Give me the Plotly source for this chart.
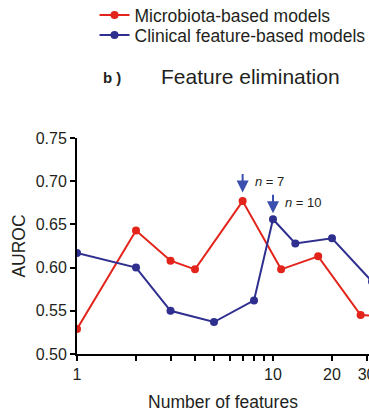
import plotly.graph_objects as go
import math

# Data
micro_x = [1, 2, 3, 4, 7, 11, 17, 28, 45]
micro_y = [0.529, 0.643, 0.608, 0.598, 0.677, 0.598, 0.613, 0.545, 0.543]
clin_x = [1, 2, 3, 5, 8, 10, 13, 20, 32]
clin_y = [0.617, 0.600, 0.550, 0.537, 0.562, 0.656, 0.628, 0.634, 0.584]

tick_vals = [1, 2, 3, 4, 5, 6, 7, 8, 9, 10, 20, 30]
tick_text = ["1", "", "", "", "", "", "", "", "", "10", "20", "30"]
y_ticks = [0.50, 0.55, 0.60, 0.65, 0.70, 0.75]

RED = "#e3241b"
BLUE = "#2e2f8e"
ARROW = "#3a4fae"
FONT = "Liberation Sans, Arial, sans-serif"

W, H = 369, 415
L, T, B = 77, 138, 61
PW, PH = W - L, H - T - B
xmax = (W - L) / 196.0

fig = go.Figure()
fig.add_trace(go.Scatter(x=micro_x, y=micro_y, mode="lines+markers",
                         name="Microbiota-based models",
                         line=dict(color=RED, width=2),
                         marker=dict(color=RED, size=8), legend="legend"))
fig.add_trace(go.Scatter(x=clin_x, y=clin_y, mode="lines+markers",
                         name="Clinical feature-based models",
                         line=dict(color=BLUE, width=2),
                         marker=dict(color=BLUE, size=8), legend="legend2"))

leg_common = dict(xanchor="left", yanchor="middle", font=dict(size=17.5, color="#231f20"),
                  itemwidth=30, bgcolor="rgba(0,0,0,0)")
lx = 0.06

fig.update_layout(
    width=W, height=H,
    margin=dict(l=L, r=0, t=T, b=B, autoexpand=False),
    paper_bgcolor="white", plot_bgcolor="white",
    font=dict(family=FONT, color="#231f20", size=16),
    showlegend=True,
    legend=dict(x=lx, y=(H - B - 15) / PH, **leg_common),
    legend2=dict(x=lx, y=(H - B - 35) / PH, **leg_common),
    xaxis=dict(type="log", range=[0, xmax], showgrid=False, zeroline=False,
               showline=True, linecolor="black", linewidth=2,
               ticks="outside", ticklen=5, tickwidth=2, tickcolor="black",
               tickvals=tick_vals, ticktext=tick_text, automargin=False,
               tickfont=dict(size=16), ticklabeloverflow="allow",
               title=dict(text="Number of features", font=dict(size=17.5), standoff=14)),
    yaxis=dict(range=[0.5, 0.75], showgrid=False, zeroline=False,
               showline=True, linecolor="black", linewidth=2,
               ticks="outside", ticklen=5, tickwidth=2, tickcolor="black",
               tickvals=y_ticks, tickformat=".2f", automargin=False,
               tickfont=dict(size=16),
               title=dict(text="AUROC", font=dict(size=17.5), standoff=6)),
)

fig.add_annotation(xref="paper", yref="paper", x=(101 - L) / PW, y=(H - B - 77) / PH,
                   text="<b>b )</b>", showarrow=False, xanchor="left", yanchor="middle",
                   font=dict(size=15, color="#231f20"))
fig.add_annotation(xref="paper", yref="paper", x=(159 - L) / PW, y=(H - B - 76) / PH,
                   text="Feature elimination", showarrow=False, xanchor="left", yanchor="middle",
                   font=dict(size=21, color="#231f20"))

# arrows
fig.add_annotation(x=math.log10(7), y=0.687, ax=0, ay=-20, text="", showarrow=True,
                   arrowhead=2, arrowsize=1.2, arrowwidth=2, arrowcolor=ARROW)
fig.add_annotation(x=math.log10(10), y=0.663, ax=0, ay=-20, text="", showarrow=True,
                   arrowhead=2, arrowsize=1.2, arrowwidth=2, arrowcolor=ARROW)
fig.add_annotation(x=math.log10(7), y=0.7, xshift=10, text="<i>n</i> = 7", showarrow=False,
                   xanchor="left", yanchor="middle", font=dict(size=13, color="#231f20"))
fig.add_annotation(x=math.log10(10), y=0.675, xshift=10, text="<i>n</i> = 10", showarrow=False,
                   xanchor="left", yanchor="middle", font=dict(size=13, color="#231f20"))

fig.write_html("out.html")
